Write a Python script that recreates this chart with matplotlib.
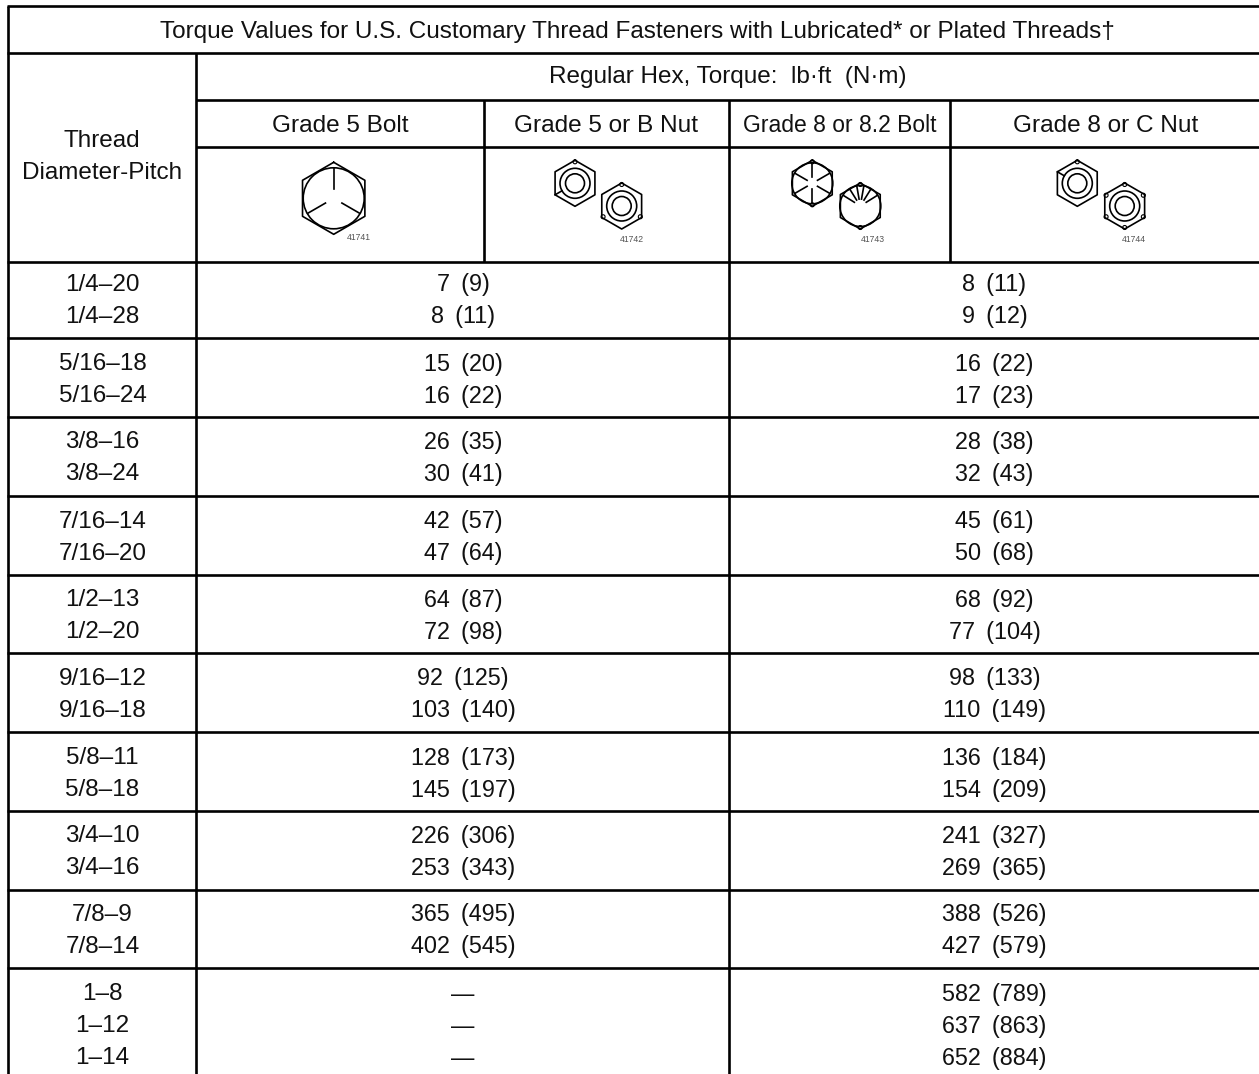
import numpy as np
import matplotlib
matplotlib.use("Agg")
import matplotlib.pyplot as plt
from matplotlib.patches import Circle

threads = [["1/4–20","1/4–28"],["5/16–18","5/16–24"],["3/8–16","3/8–24"],["7/16–14","7/16–20"],
           ["1/2–13","1/2–20"],["9/16–12","9/16–18"],["5/8–11","5/8–18"],["3/4–10","3/4–16"],
           ["7/8–9","7/8–14"],["1–8","1–12","1–14"]]
grade5 = [["7  (9)","8  (11)"],["15  (20)","16  (22)"],["26  (35)","30  (41)"],["42  (57)","47  (64)"],
          ["64  (87)","72  (98)"],["92  (125)","103  (140)"],["128  (173)","145  (197)"],
          ["226  (306)","253  (343)"],["365  (495)","402  (545)"],["—","—","—"]]
grade8 = [["8  (11)","9  (12)"],["16  (22)","17  (23)"],["28  (38)","32  (43)"],["45  (61)","50  (68)"],
          ["68  (92)","77  (104)"],["98  (133)","110  (149)"],["136  (184)","154  (209)"],
          ["241  (327)","269  (365)"],["388  (526)","427  (579)"],["582  (789)","637  (863)","652  (884)"]]
title = "Torque Values for U.S. Customary Thread Fasteners with Lubricated* or Plated Threads†"
subtitle = "Regular Hex, Torque:  lb·ft  (N·m)"
grades = ["Grade 5 Bolt","Grade 5 or B Nut","Grade 8 or 8.2 Bolt","Grade 8 or C Nut"]
fig_numbers = ["41741","41742","41743","41744"]

W, H = 1259, 1074
fig = plt.figure(figsize=(W/100, H/100), dpi=100)
ax = fig.add_axes([0, 0, 1, 1])
ax.set_xlim(0, W); ax.set_ylim(H, 0); ax.axis("off")
plt.rcParams['font.family'] = ['Liberation Sans', 'DejaVu Sans']
FS = 17.5
VFS = 16.85
LW = 1.9
IW = 1.2

def hl(y, x0=7, x1=W): ax.plot([x0, x1], [y, y], color="k", lw=LW, solid_capstyle="butt")
def vl(x, y0, y1=H): ax.plot([x, x], [y0, y1], color="k", lw=LW, solid_capstyle="butt")
def t(x, y, s, fs=FS, **k):
    ax.text(x, y + 1, s, fontsize=fs, ha="center", va="center", color="#111111", **k)

def polar(cx, cy, r, deg):
    a = np.radians(deg)
    return cx + r*np.cos(a), cy - r*np.sin(a)
def hexagon(cx, cy, R):
    pts = [polar(cx, cy, R, 90+60*i) for i in range(7)]
    ax.plot(*zip(*pts), color="k", lw=IW)
def circ(cx, cy, r, lw=IW):
    ax.add_patch(Circle((cx, cy), r, fill=False, ec="k", lw=lw))
def radial(cx, cy, r0, r1, deg):
    p, q = polar(cx, cy, r0, deg), polar(cx, cy, r1, deg)
    ax.plot([p[0], q[0]], [p[1], q[1]], color="k", lw=IW)
def dots(cx, cy, R, angles):
    for d in angles:
        circ(*polar(cx, cy, R-1.5, d), 2, lw=0.8)

# grid
vl(8, 6); hl(6); hl(53); vl(196, 53); hl(100, 196); hl(147, 196)
hl(262)
for x in (484, 950): vl(x, 100, 262)
vl(729.5, 100)
seps = [338.3, 417, 495.8, 574.5, 653.3, 732, 810.8, 889.5, 968.3]
for y in seps: hl(y)

# headings
t(637, 31, title, fs=17.5)
t(728, 76, subtitle)
for x, s, fs in zip((340, 606, 840, 1106), grades, (17.6, 17.6, 16.5, 17.6)): t(x, 125, s, fs=fs)
t(102, 140, "Thread"); t(102, 172, "Diameter-Pitch")

# rows
starts = [284, 363, 441.5, 520.5, 599, 678, 757, 835.5, 914, 993]
PITCH = 32
for y0, a, b, c in zip(starts, threads, grade5, grade8):
    for i in range(len(a)):
        y = y0 + i*PITCH
        t(102.5, y, a[i]); t(463, y, b[i].replace("  ", " \u2009"), fs=VFS); t(994.5, y, c[i].replace("  ", " \u2009"), fs=VFS)

# icons
cx, cy = 333.7, 198.3
hexagon(cx, cy, 36); circ(cx, cy, 30.5)
for d in (90, 210, 330): radial(cx, cy, 9.5, 30, d)

cx, cy = 575, 183.3
hexagon(cx, cy, 23); circ(cx, cy, 15); circ(cx, cy, 9.5); dots(cx, cy, 23, [90])
radial(cx, cy, 15, 23, 210)
cx, cy = 621.7, 206
hexagon(cx, cy, 23); circ(cx, cy, 15); circ(cx, cy, 9.5); dots(cx, cy, 23, [90, 210, 330])

cx, cy = 812.3, 183.3
hexagon(cx, cy, 23); circ(cx, cy, 20.5); dots(cx, cy, 23, [90, 270])
for d in (90, 270, 30, 150, 210, 330): radial(cx, cy, 6, 20, d)
cx, cy = 860.3, 206
hexagon(cx, cy, 23); circ(cx, cy, 20.5); dots(cx, cy, 23, [90, 270])
for d in (148, 122, 100, 80, 58, 32): radial(cx, cy, 7, 20, d)

cx, cy = 1077.3, 183.3
hexagon(cx, cy, 23); circ(cx, cy, 15); circ(cx, cy, 9.5); dots(cx, cy, 23, [90])
radial(cx, cy, 15, 23, 150)
cx, cy = 1124.7, 206
hexagon(cx, cy, 23); circ(cx, cy, 15); circ(cx, cy, 9.5); dots(cx, cy, 23, range(30, 360, 60))

for (x, y), s in zip([(358.7, 238), (632, 239.5), (873, 240), (1134, 239.5)], fig_numbers):
    ax.text(x, y, s, fontsize=6.2, ha="center", va="center", color="#555555")

fig.savefig("out.png", dpi=100)
